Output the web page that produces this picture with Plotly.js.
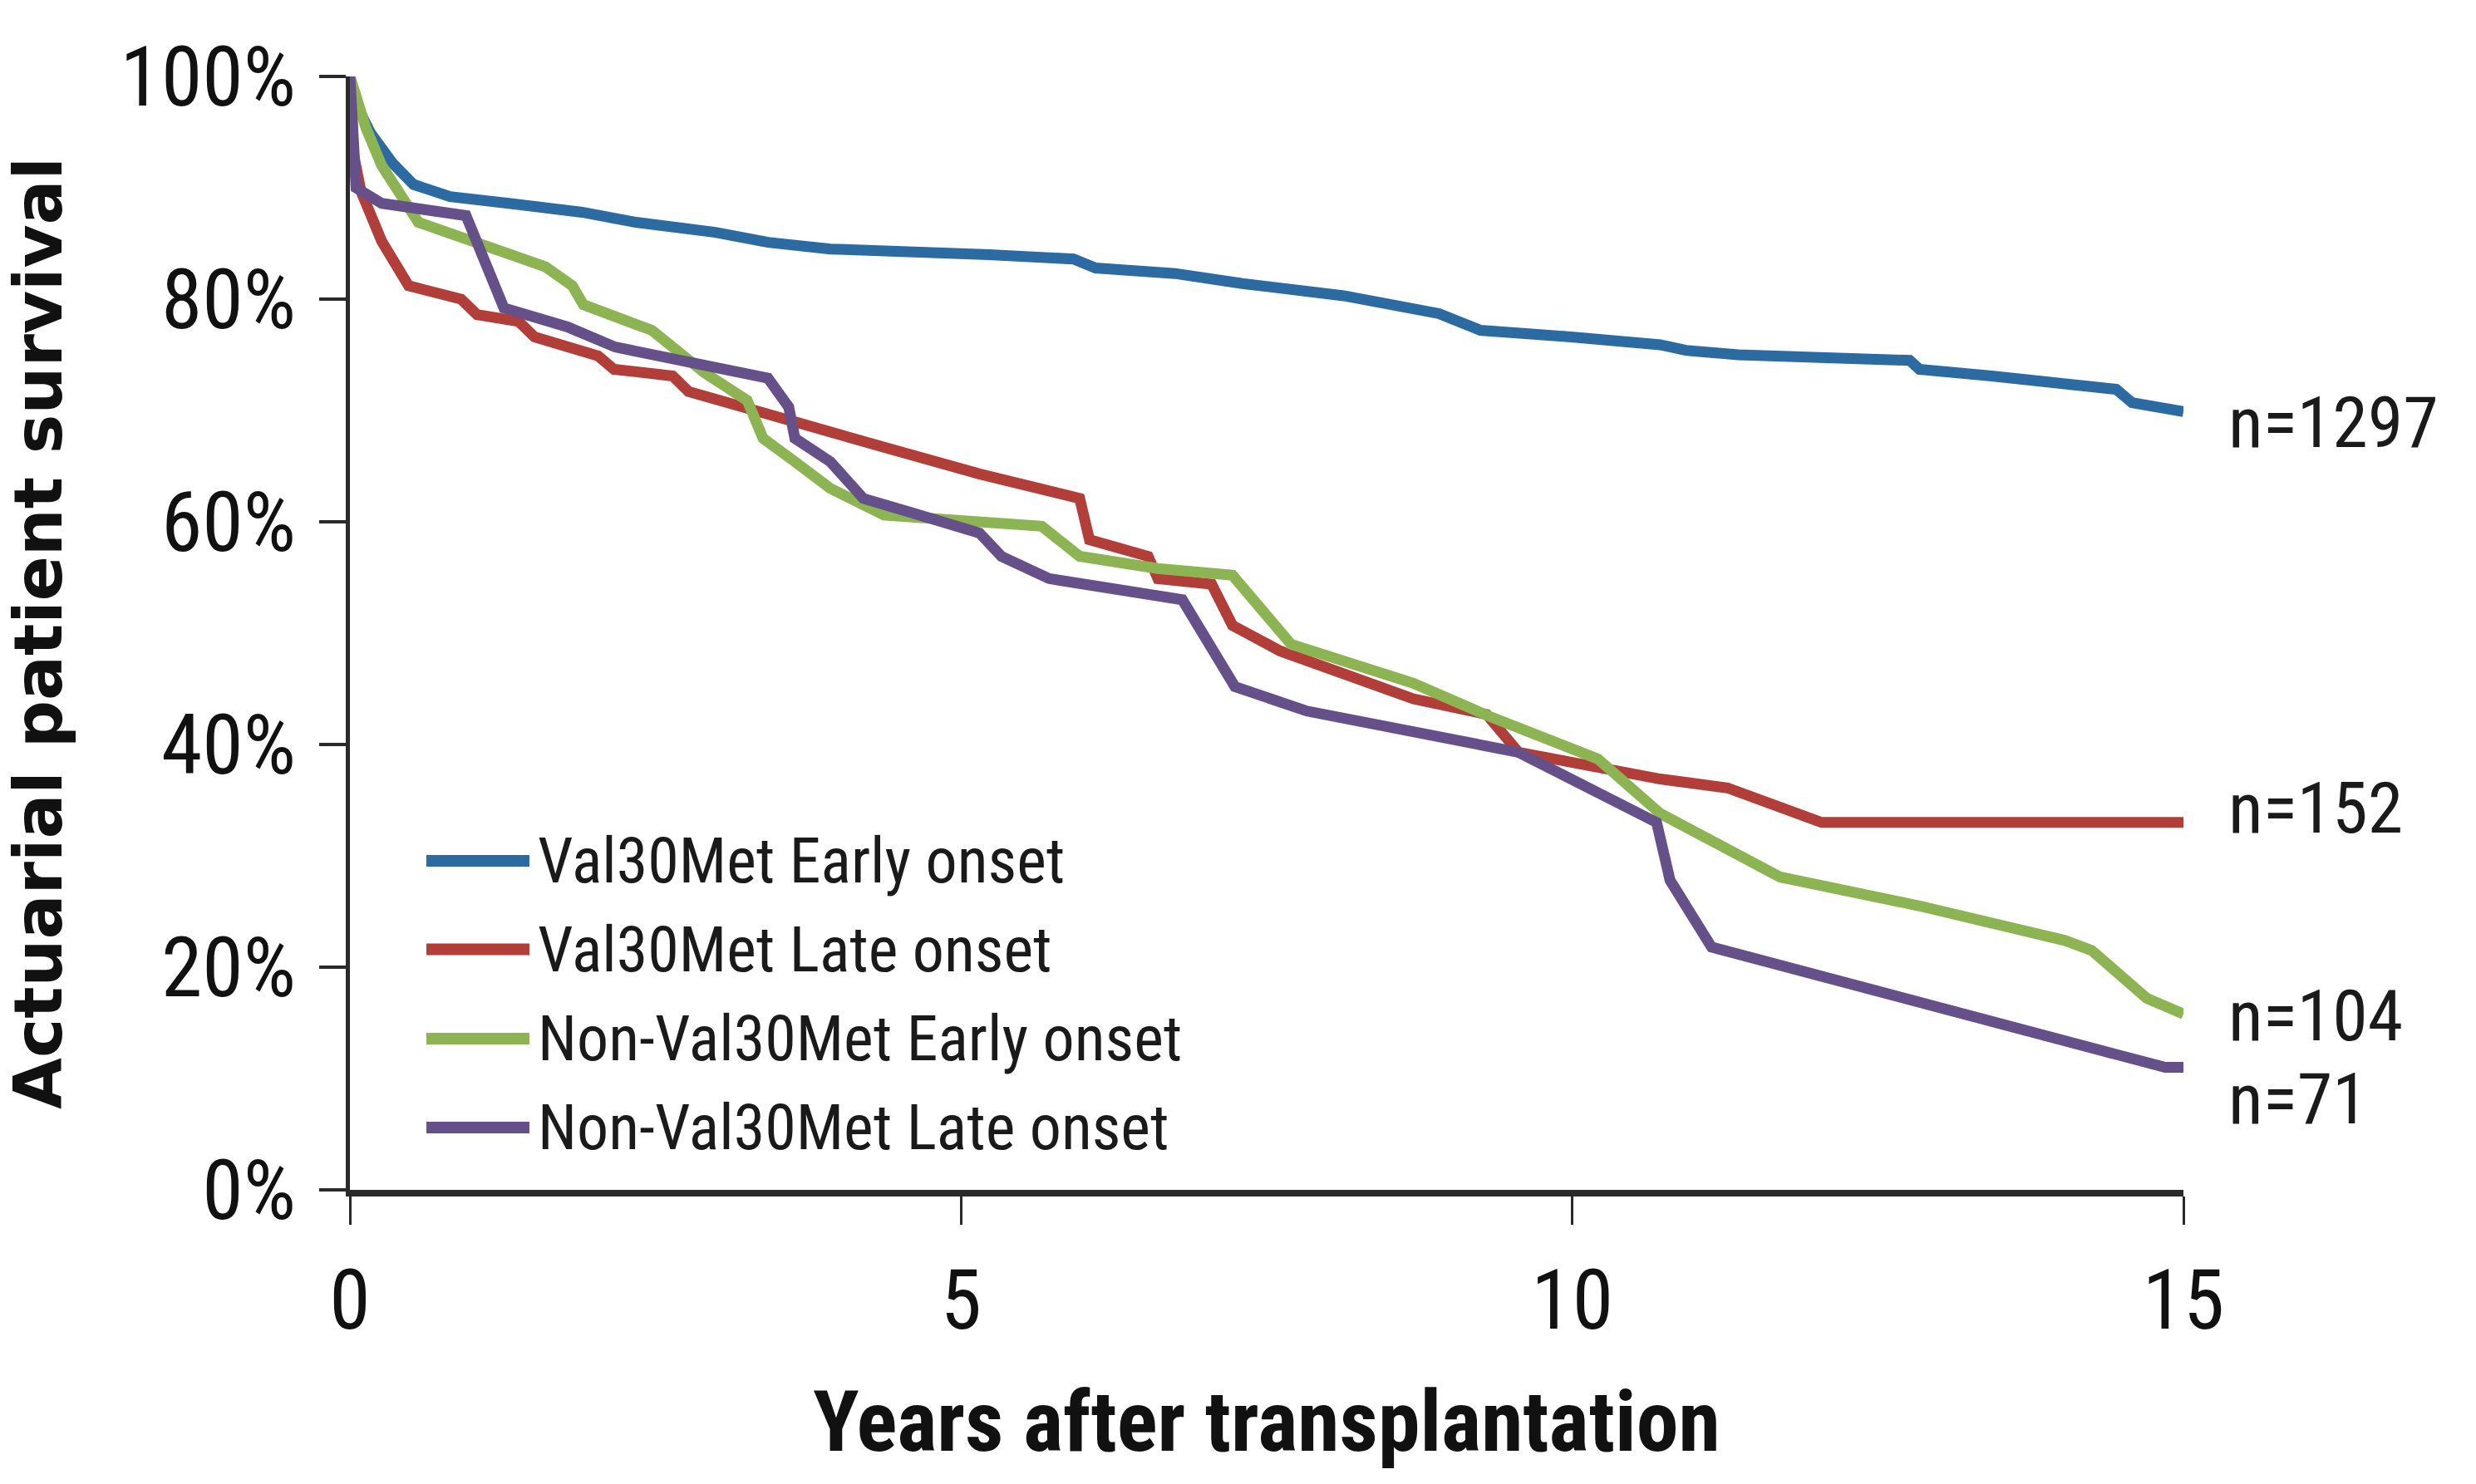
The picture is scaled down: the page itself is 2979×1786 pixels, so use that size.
<!DOCTYPE html>
<html>
<head>
<meta charset="utf-8">
<script src="https://cdn.plot.ly/plotly-3.0.1.min.js"></script>
<style>html,body{margin:0;padding:0;background:#fff;}#chart{width:2979px;height:1786px;}</style>
</head>
<body>
<div id="chart"></div>
<script>
// ---- data ----
const seriesNames = ["Val30Met Early onset", "Val30Met Late onset", "Non-Val30Met Early onset", "Non-Val30Met Late onset"];
const nLabels = ["n=1297", "n=152", "n=104", "n=71"];
const nLabelY = [68.9, 34.3, 15.6, 8.2];

const blueX = [0, 0.05, 0.17, 0.35, 0.52, 0.82, 1.3, 1.9, 2.34, 2.99, 3.42, 3.93, 5.23, 5.92, 6.1, 6.75, 7.3, 8.13, 8.91, 9.25, 9.99, 10.72, 10.93, 11.36, 12.76, 12.84, 13.43, 14.45, 14.58, 15];
const blueY = [100, 97.5, 94.9, 92.2, 90.3, 89.2, 88.6, 87.8, 86.9, 86.0, 85.1, 84.5, 84.0, 83.6, 82.8, 82.3, 81.4, 80.3, 78.7, 77.2, 76.6, 75.9, 75.4, 75.0, 74.5, 73.7, 73.1, 71.9, 70.7, 69.9];

const redX = [0, 0.03, 0.09, 0.26, 0.48, 0.91, 1.04, 1.38, 1.51, 2.03, 2.16, 2.64, 2.77, 3.29, 3.93, 4.37, 5.15, 5.97, 6.05, 6.53, 6.61, 7.05, 7.22, 7.61, 8.7, 9.3, 9.56, 10.72, 11.27, 12.04, 15];
const redY = [100, 93, 89.7, 85.2, 81.2, 80.0, 78.6, 78.0, 76.6, 74.9, 73.7, 73.1, 71.7, 70.0, 68.0, 66.7, 64.3, 62.1, 58.4, 56.9, 54.9, 54.4, 50.7, 48.4, 44.1, 42.7, 39.3, 36.9, 36.1, 33.0, 33.0];

const greenX = [0, 0.13, 0.26, 0.56, 0.95, 1.3, 1.6, 1.82, 1.91, 2.47, 2.6, 2.9, 3.25, 3.38, 3.64, 3.93, 4.37, 5.66, 5.97, 6.61, 7.22, 7.7, 8.7, 9.35, 10.21, 10.45, 10.72, 11.7, 12.84, 14.03, 14.25, 14.7, 15];
const greenY = [100, 95.4, 92.0, 86.9, 85.4, 84.0, 82.9, 81.2, 79.5, 77.2, 76.0, 73.4, 70.9, 67.5, 65.4, 63.0, 60.6, 59.6, 56.9, 55.8, 55.2, 49.0, 45.5, 42.4, 38.7, 36.5, 33.8, 28.1, 25.5, 22.4, 21.5, 17.2, 15.8];

const purpleX = [0, 0.05, 0.26, 0.86, 0.95, 1.26, 1.78, 2.17, 2.77, 3.42, 3.59, 3.64, 3.93, 4.2, 4.6, 5.15, 5.33, 5.72, 6.81, 7.24, 7.83, 9.56, 10.69, 10.8, 11.14, 12.42, 14.85, 15];
const purpleY = [100, 90, 88.6, 87.8, 87.5, 79.2, 77.5, 75.7, 74.3, 72.9, 70.3, 67.5, 65.4, 62.1, 60.8, 59.0, 56.9, 54.9, 53.0, 45.2, 43.0, 39.3, 33.0, 27.8, 21.8, 18.1, 11.0, 11.0];

const xTickVals = [0, 5, 10, 15];
const yTickVals = [0, 20, 40, 60, 80, 100];
const yTickText = ["0%", "20%", "40%", "60%", "80%", "100%"];

// ---- styling ----
const colors = ["#2C6BA2", "#B23E3A", "#8DB453", "#66508A"];
const narrow = "'Liberation Sans Narrow', 'Arial Narrow', 'Roboto Condensed', 'Liberation Sans', sans-serif";
const xs = [blueX, redX, greenX, purpleX];
const ys = [blueY, redY, greenY, purpleY];

const traces = xs.map((x, i) => ({
  type: "scatter", mode: "lines", name: seriesNames[i],
  x: x, y: ys[i],
  line: {color: colors[i], width: 13, shape: "linear"},
  showlegend: false, hoverinfo: "x+y+name"
}));

// legend drawn as paper-referenced samples + labels
const legY = [0.2955, 0.2160, 0.1358, 0.0560];
const shapes = [];
const annotations = [];
seriesNames.forEach((nm, i) => {
  shapes.push({type: "line", xref: "paper", yref: "paper", x0: 0.0417, x1: 0.0979, y0: legY[i], y1: legY[i],
               line: {color: colors[i], width: 14}});
  annotations.push({xref: "paper", yref: "paper", x: 0.1015, y: legY[i], xanchor: "left", yanchor: "middle",
                    text: nm, showarrow: false, font: {family: narrow, size: 76, color: "#1a1a1a"}});
});
nLabels.forEach((t, i) => {
  annotations.push({xref: "x", yref: "y", x: 15, y: nLabelY[i], xanchor: "left", yanchor: "middle", xshift: 52,
                    text: t, showarrow: false, font: {family: narrow, size: 86, color: "#1a1a1a"}});
});

const layout = {
  width: 2979, height: 1786,
  paper_bgcolor: "#ffffff", plot_bgcolor: "#ffffff",
  margin: {l: 421, r: 352, t: 92, b: 354, pad: 0},
  showlegend: false,
  xaxis: {
    range: [0, 15], tickvals: xTickVals, ticktext: xTickVals.map(String),
    showgrid: false, zeroline: false,
    showline: true, linecolor: "#2a2a2a", linewidth: 8,
    ticks: "outside", ticklen: 34, tickwidth: 3, tickcolor: "#2a2a2a",
    ticklabelstandoff: 5,
    tickfont: {family: narrow, size: 100, color: "#111"},
    title: {text: "<b>Years after transplantation</b>", standoff: 56,
            font: {family: narrow, size: 102, color: "#111"}}
  },
  yaxis: {
    range: [0, 100], tickvals: yTickVals, ticktext: yTickText,
    showgrid: false, zeroline: false,
    showline: true, linecolor: "#2a2a2a", linewidth: 5,
    ticks: "outside", ticklen: 32, tickwidth: 4, tickcolor: "#2a2a2a",
    ticklabelstandoff: 8,
    tickfont: {family: narrow, size: 100, color: "#111"},
    title: {text: "<b>Actuarial patient survival</b>", standoff: 46,
            font: {family: "'DejaVu Sans', Verdana, sans-serif", size: 80, color: "#111"}}
  },
  shapes: shapes,
  annotations: annotations
};

Plotly.newPlot("chart", traces, layout, {displayModeBar: false, staticPlot: true});
</script>
</body>
</html>
